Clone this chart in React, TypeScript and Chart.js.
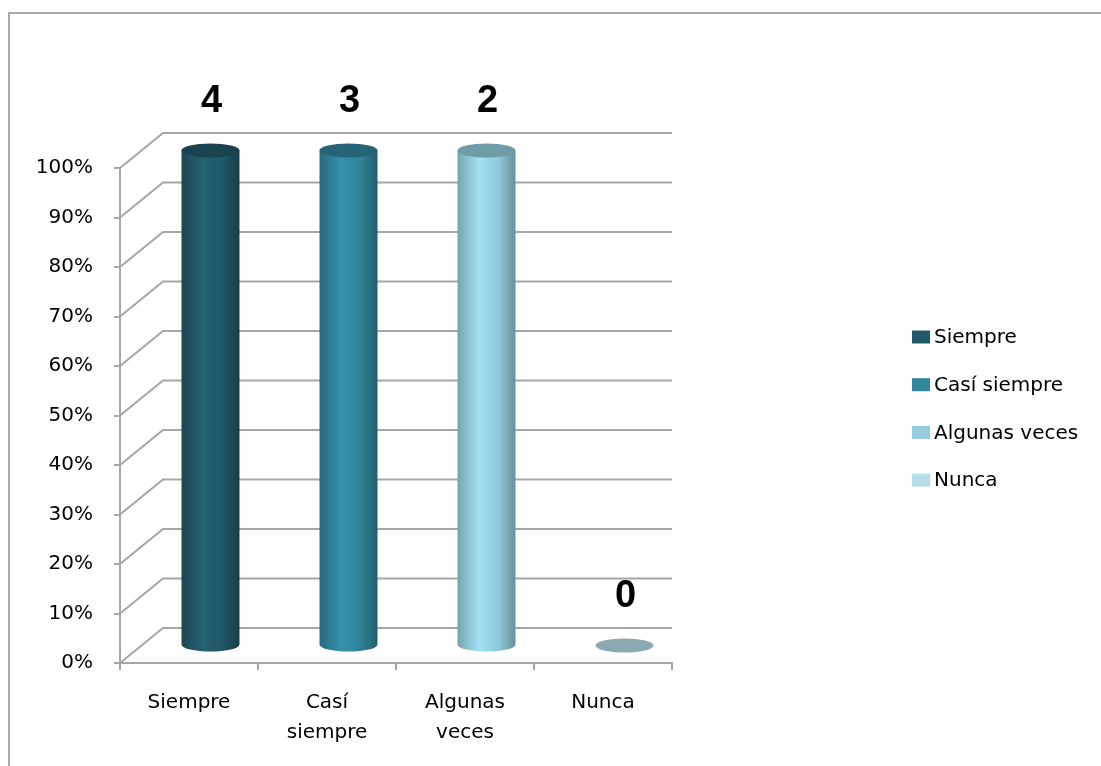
import React, { useEffect, useRef } from 'react';
import { Chart, registerables } from 'chart.js';

Chart.register(...registerables);

// ---- data ----
const categories: string[] = ['Siempre', 'Casí siempre', 'Algunas veces', 'Nunca'];
const categoryTickLabels: string[][] = [['Siempre'], ['Casí', 'siempre'], ['Algunas', 'veces'], ['Nunca']];
const counts: number[] = [4, 3, 2, 0];
const yTickMin = 0;
const yTickMax = 100;
const yTickStep = 10;

// 100% stacked: each value as a share of its category total (single series)
const categoryTotals: number[] = counts.slice();
const percentValues: number[] = counts.map((c, i) => (categoryTotals[i] > 0 ? (c / categoryTotals[i]) * 100 : 0));

// ---- styles ----
const pointColors: string[] = ['#215968', '#31859c', '#93cddd', '#b7dee8'];
const FONT = 'DejaVu Sans';
const GRID = '#a6a6a6';
const DX = 43;
const DY = -35;
const CAP_RY = 7;
const CANVAS_W = 1085;
const CANVAS_H = 750;
const LEG_X = 904;
const LEG_Y0 = 329;
const LEG_GAP = 47.7;

function shade(hex: string, f: number): string {
  const n = parseInt(hex.slice(1), 16);
  const r = Math.max(0, Math.min(255, Math.round(((n >> 16) & 255) * f)));
  const g = Math.max(0, Math.min(255, Math.round(((n >> 8) & 255) * f)));
  const b = Math.max(0, Math.min(255, Math.round((n & 255) * f)));
  return `rgb(${r},${g},${b})`;
}

function drawCylinder(ctx: CanvasRenderingContext2D, cx: number, topY: number, botY: number, w: number, base: string) {
  const rx = w / 2;
  if (botY - topY > 0.5) {
    const g = ctx.createLinearGradient(cx - rx, 0, cx + rx, 0);
    g.addColorStop(0, shade(base, 0.8));
    g.addColorStop(0.38, shade(base, 1.1));
    g.addColorStop(0.72, shade(base, 0.97));
    g.addColorStop(1, shade(base, 0.7));
    ctx.beginPath();
    ctx.moveTo(cx - rx, topY);
    ctx.lineTo(cx - rx, botY);
    ctx.ellipse(cx, botY, rx, CAP_RY, 0, Math.PI, 0, true);
    ctx.lineTo(cx + rx, topY);
    ctx.closePath();
    ctx.fillStyle = g;
    ctx.fill();
  }
  ctx.beginPath();
  ctx.ellipse(cx, topY, rx, CAP_RY, 0, 0, Math.PI * 2);
  ctx.fillStyle = shade(base, 0.76);
  ctx.fill();
}

const excel3dPlugin = {
  id: 'excel3d',
  beforeDatasetsDraw(chart: any) {
    const ctx: CanvasRenderingContext2D = chart.ctx;
    const y = chart.scales.y;
    const area = chart.chartArea;
    ctx.save();
    ctx.strokeStyle = GRID;
    ctx.lineWidth = 2;
    y.ticks.forEach((t: any) => {
      const py = y.getPixelForValue(t.value);
      ctx.beginPath();
      ctx.moveTo(area.left, py);
      ctx.lineTo(area.left + DX, py + DY);
      ctx.lineTo(area.right, py + DY);
      ctx.stroke();
    });
    ctx.restore();
  },
  beforeDatasetDraw() {
    return false;
  },
  afterDatasetsDraw(chart: any) {
    const ctx: CanvasRenderingContext2D = chart.ctx;
    const meta = chart.getDatasetMeta(0);
    ctx.save();
    meta.data.forEach((el: any, i: number) => {
      const cx = el.x + DX / 2;
      const topY = el.y + DY / 2;
      const botY = el.base + DY / 2;
      drawCylinder(ctx, cx, topY, botY, el.width, pointColors[i]);
      ctx.font = `bold 38px "Liberation Sans"`;
      ctx.fillStyle = '#000';
      ctx.textAlign = 'center';
      ctx.textBaseline = 'middle';
      ctx.fillText(String(counts[i]), cx + 1, topY - 49);
    });
    ctx.restore();
  },
  afterDraw(chart: any) {
    const ctx: CanvasRenderingContext2D = chart.ctx;
    ctx.save();
    ctx.font = `20px "${FONT}"`;
    ctx.textBaseline = 'middle';
    ctx.textAlign = 'left';
    categories.forEach((c, i) => {
      const yy = LEG_Y0 + i * LEG_GAP;
      ctx.fillStyle = pointColors[i];
      ctx.fillRect(LEG_X, yy - 6.5, 18, 13);
      ctx.fillStyle = '#000';
      ctx.fillText(c, LEG_X + 22, yy + 1);
    });
    ctx.restore();
  },
};

export default function App() {
  const ref = useRef<HTMLCanvasElement | null>(null);
  useEffect(() => {
    if (!ref.current) return;
    const chart = new Chart(ref.current, {
      type: 'bar',
      data: {
        labels: categoryTickLabels,
        datasets: [
          {
            label: 'Serie',
            data: percentValues,
            backgroundColor: pointColors,
            categoryPercentage: 0.42,
            barPercentage: 1,
          },
        ],
      },
      options: {
        responsive: false,
        animation: false,
        devicePixelRatio: 1,
        layout: { padding: { left: 0, right: CANVAS_W - 664, top: 160, bottom: 0 } },
        plugins: {
          legend: { display: false },
          tooltip: { enabled: false },
          title: { display: false },
        },
        scales: {
          x: {
            stacked: true,
            grid: { display: true, drawOnChartArea: false, drawTicks: true, tickLength: 7, color: GRID, lineWidth: 2, offset: true },
            border: { display: true, color: GRID, width: 2 },
            ticks: { color: '#000', padding: 18, font: { family: FONT, size: 20, lineHeight: 1.5 }, maxRotation: 0, autoSkip: false },
            afterFit: (s: any) => {
              s.height = 95;
            },
          },
          y: {
            stacked: true,
            min: yTickMin,
            max: yTickMax,
            grid: { display: true, drawOnChartArea: false, drawTicks: true, tickLength: 6, color: GRID, lineWidth: 2 },
            border: { display: true, color: GRID, width: 2 },
            ticks: {
              stepSize: yTickStep,
              color: '#000',
              padding: 21,
              font: { family: FONT, size: 20 },
              callback: (v: any) => `${v}%`,
            },
            afterFit: (s: any) => {
              s.width = 112;
            },
          },
        },
      },
      plugins: [excel3dPlugin],
    } as any);
    return () => chart.destroy();
  }, []);
  return (
    <div style={{ width: CANVAS_W, height: CANVAS_H, position: 'relative' }}>
      <canvas ref={ref} width={CANVAS_W} height={CANVAS_H} style={{ display: 'block' }} />
      <div
        style={{
          position: 'fixed',
          left: 8,
          top: 12,
          width: 1093,
          height: 754,
          boxSizing: 'border-box',
          borderTop: '2.4px solid #a9a9a9',
          borderLeft: '2.4px solid #a9a9a9',
          pointerEvents: 'none',
        }}
      />
    </div>
  );
}
